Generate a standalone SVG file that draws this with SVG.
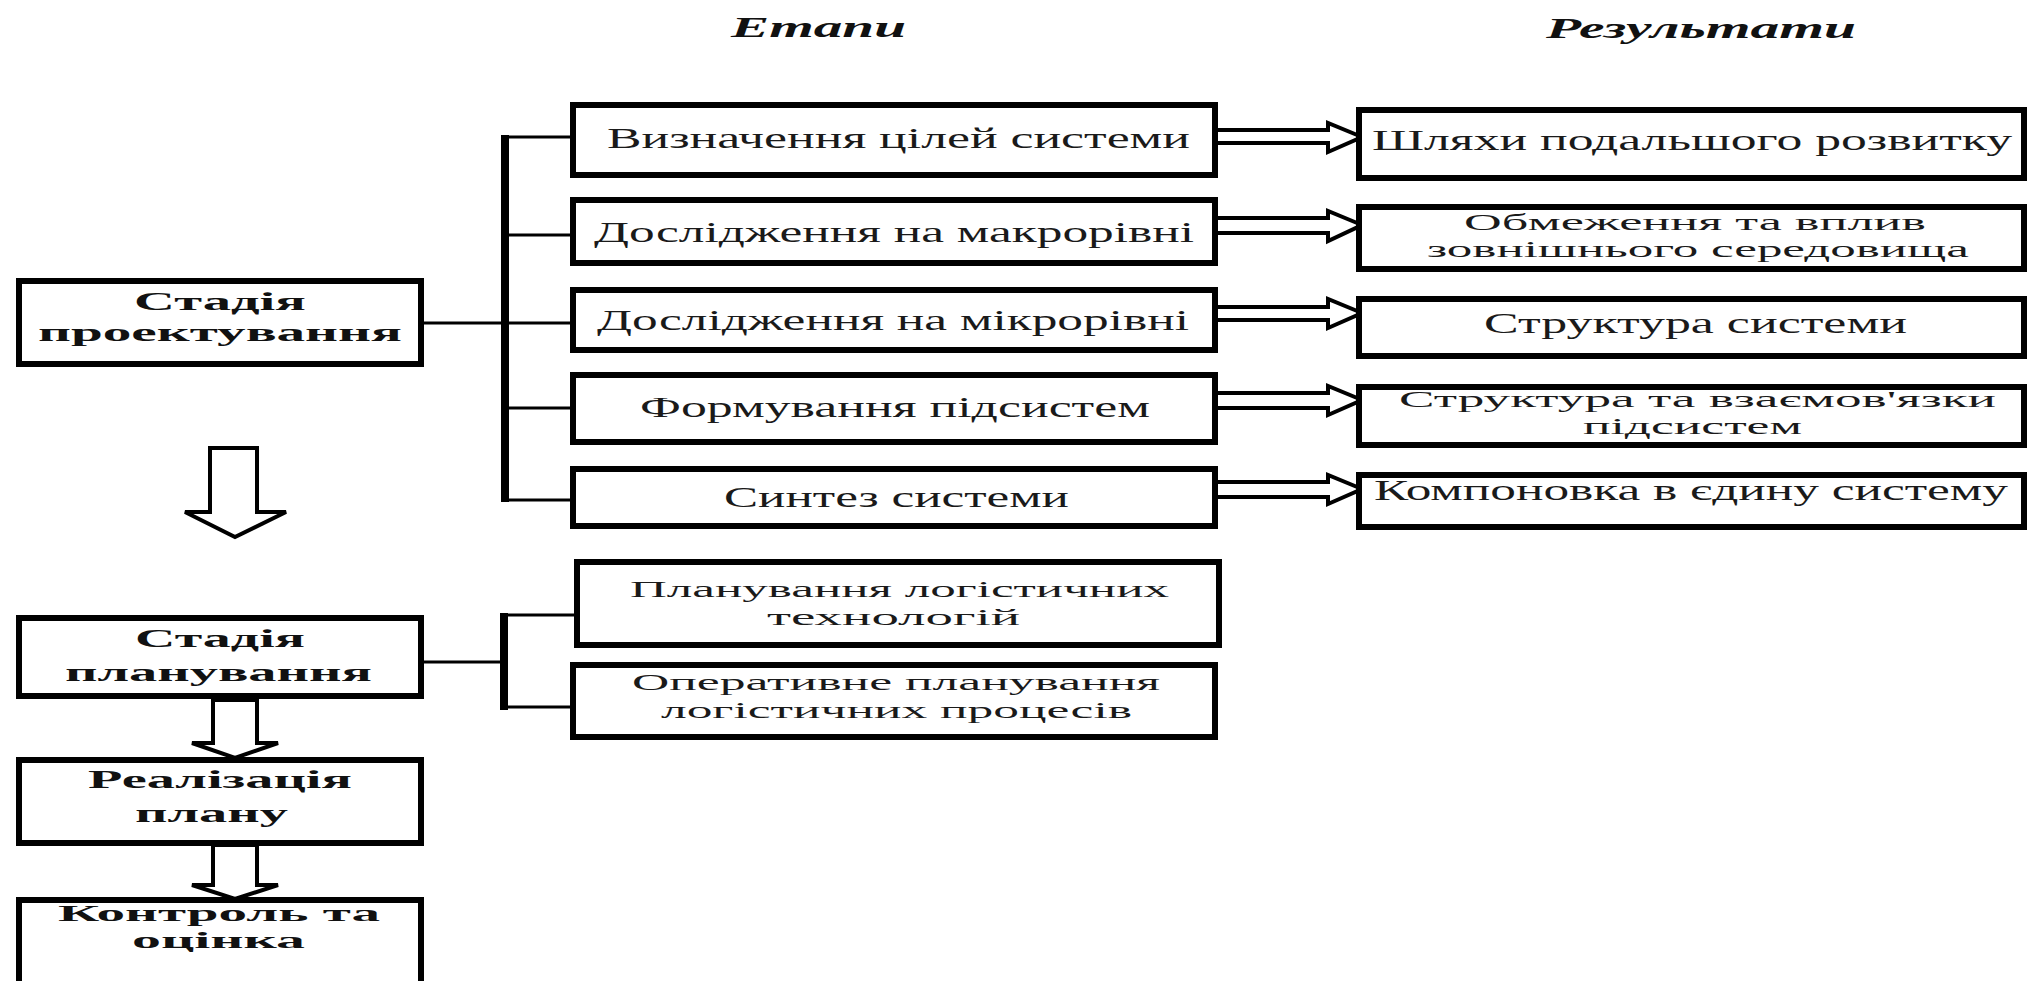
<svg xmlns="http://www.w3.org/2000/svg" width="2030" height="981" viewBox="0 0 2030 981">
<style>
.box{fill:#fff;stroke:#000;stroke-width:6}
.ln{fill:none;stroke:#000;stroke-width:3}
.bar{fill:none;stroke:#000;stroke-width:8}
.arr{fill:#fff;stroke:#000;stroke-width:4;stroke-linejoin:miter}
.t{font-family:"Liberation Serif","Times New Roman",serif;font-size:29px;fill:#1a1a1a}
.t2{font-family:"Liberation Serif","Times New Roman",serif;font-size:24px;fill:#1a1a1a}
.b{font-family:"Liberation Serif","Times New Roman",serif;font-size:26px;font-weight:bold;fill:#111}
.b2{font-family:"Liberation Serif","Times New Roman",serif;font-size:24px;font-weight:bold;fill:#111}
.h{font-family:"Liberation Serif","Times New Roman",serif;font-size:30px;font-weight:bold;font-style:italic;fill:#111}
</style>
<rect width="2030" height="981" fill="#fff"/>

<g id="headers">
<text class="h" x="731" y="37" textLength="175" lengthAdjust="spacingAndGlyphs">Етапи</text>
<text class="h" x="1546" y="38" textLength="310" lengthAdjust="spacingAndGlyphs">Результати</text>
</g>

<g id="connectors">
<path class="bar" d="M505,135 V502"/>
<path class="ln" d="M505,137 H573 M505,235 H573 M421,323 H573 M505,408 H573 M505,500 H573"/>
<path class="bar" d="M504,613 V710"/>
<path class="ln" d="M504,615 H577 M504,707 H573 M421,662 H504"/>
<path class="arr" d="M1218,130 H1328 V123 L1362,137 L1328,152 V143 H1218"/>
<path class="arr" d="M1218,218 H1328 V211 L1362,225 L1328,241 V233 H1218"/>
<path class="arr" d="M1218,307 H1328 V299 L1362,313 L1328,328 V320 H1218"/>
<path class="arr" d="M1218,393 H1328 V386 L1362,400 L1328,415 V408 H1218"/>
<path class="arr" d="M1218,482 H1328 V475 L1362,489 L1328,504 V497 H1218"/>
<path class="arr" d="M210,448 H257 V512 H286 L235,537 L185,512 H210 Z"/>
<path class="arr" d="M213,700 H257 V743 H278 L235,758 L192,743 H213 Z"/>
<path class="arr" d="M213,845 H257 V885 H278 L235,899 L192,885 H213 Z"/>
</g>

<g id="stage-design">
<rect class="box" x="19" y="281" width="402" height="83"/>
<text class="b" x="134" y="310" textLength="172" lengthAdjust="spacingAndGlyphs">Стадія</text>
<text class="b" x="38" y="341" textLength="364" lengthAdjust="spacingAndGlyphs">проектування</text>
</g>
<g id="stage-planning">
<rect class="box" x="19" y="618" width="402" height="78"/>
<text class="b" x="135" y="647" textLength="170" lengthAdjust="spacingAndGlyphs">Стадія</text>
<text class="b" x="65" y="681" textLength="307" lengthAdjust="spacingAndGlyphs">планування</text>
</g>
<g id="stage-implementation">
<rect class="box" x="19" y="760" width="402" height="83"/>
<text class="b" x="88" y="788" textLength="264" lengthAdjust="spacingAndGlyphs">Реалізація</text>
<text class="b" x="135" y="822" textLength="153" lengthAdjust="spacingAndGlyphs">плану</text>
</g>
<g id="stage-control">
<rect class="box" x="19" y="900" width="402" height="100"/>
<text class="b2" x="58" y="921" textLength="322" lengthAdjust="spacingAndGlyphs">Контроль та</text>
<text class="b2" x="132" y="948" textLength="173" lengthAdjust="spacingAndGlyphs">оцінка</text>
</g>

<g id="step-1">
<rect class="box" x="573" y="105" width="642" height="70"/>
<text class="t" x="607" y="148" textLength="583" lengthAdjust="spacingAndGlyphs">Визначення цілей системи</text>
</g>
<g id="step-2">
<rect class="box" x="573" y="200" width="642" height="63"/>
<text class="t" x="594" y="242" textLength="600" lengthAdjust="spacingAndGlyphs">Дослідження на макрорівні</text>
</g>
<g id="step-3">
<rect class="box" x="573" y="290" width="642" height="60"/>
<text class="t" x="597" y="330" textLength="592" lengthAdjust="spacingAndGlyphs">Дослідження на мікрорівні</text>
</g>
<g id="step-4">
<rect class="box" x="573" y="375" width="642" height="67"/>
<text class="t" x="640" y="417" textLength="510" lengthAdjust="spacingAndGlyphs">Формування підсистем</text>
</g>
<g id="step-5">
<rect class="box" x="573" y="469" width="642" height="57"/>
<text class="t" x="724" y="507" textLength="345" lengthAdjust="spacingAndGlyphs">Синтез системи</text>
</g>

<g id="result-1">
<rect class="box" x="1359" y="110" width="665" height="68"/>
<text class="t" x="1372" y="150" textLength="640" lengthAdjust="spacingAndGlyphs">Шляхи подальшого розвитку</text>
</g>
<g id="result-2">
<rect class="box" x="1359" y="207" width="665" height="62"/>
<text class="t2" x="1464" y="230" textLength="462" lengthAdjust="spacingAndGlyphs">Обмеження та вплив</text>
<text class="t2" x="1427" y="257" textLength="542" lengthAdjust="spacingAndGlyphs">зовнішнього середовища</text>
</g>
<g id="result-3">
<rect class="box" x="1359" y="299" width="665" height="57"/>
<text class="t" x="1484" y="333" textLength="423" lengthAdjust="spacingAndGlyphs">Структура системи</text>
</g>
<g id="result-4">
<rect class="box" x="1359" y="387" width="665" height="58"/>
<text class="t2" x="1399" y="407" textLength="597" lengthAdjust="spacingAndGlyphs">Структура та взаємов'язки</text>
<text class="t2" x="1583" y="434" textLength="219" lengthAdjust="spacingAndGlyphs">підсистем</text>
</g>
<g id="result-5">
<rect class="box" x="1359" y="475" width="665" height="52"/>
<text class="t" x="1374" y="500" textLength="634" lengthAdjust="spacingAndGlyphs">Компоновка в єдину систему</text>
</g>

<g id="plan-1">
<rect class="box" x="577" y="562" width="642" height="83"/>
<text class="t2" x="630" y="597" textLength="539" lengthAdjust="spacingAndGlyphs">Планування логістичних</text>
<text class="t2" x="767" y="625" textLength="253" lengthAdjust="spacingAndGlyphs">технологій</text>
</g>
<g id="plan-2">
<rect class="box" x="573" y="665" width="642" height="72"/>
<text class="t2" x="632" y="690" textLength="528" lengthAdjust="spacingAndGlyphs">Оперативне планування</text>
<text class="t2" x="661" y="718" textLength="471" lengthAdjust="spacingAndGlyphs">логістичних процесів</text>
</g>
</svg>
